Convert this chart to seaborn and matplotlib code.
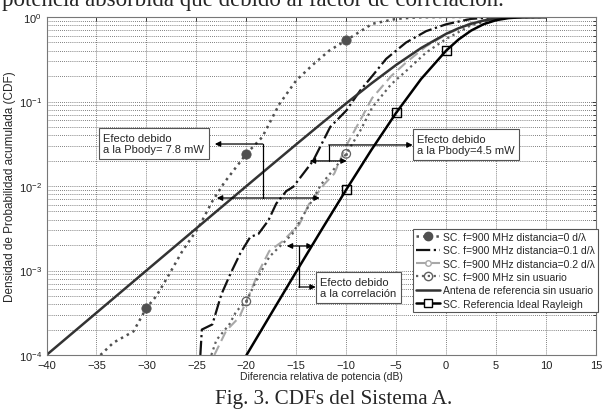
import numpy as np
import pandas as pd
import matplotlib
matplotlib.use("Agg")
import matplotlib.pyplot as plt
import seaborn as sns
from matplotlib.lines import Line2D
from matplotlib.ticker import LogLocator, NullFormatter

# ---------------- data ----------------
d0_x = [-34.6, -33.3, -31.3, -30.0, -29.0, -28.0, -26.4, -24.8, -23.4, -22.2, -20.0,
        -18.4, -16.7, -15.0, -13.3, -11.7, -10.0, -7.4, -5.0, -3.0, 0.0, 10.0]
d0_y = [1.0e-4, 1.4e-4, 1.9e-4, 3.6e-4, 5.0e-4, 7.9e-4, 1.7e-3, 3.2e-3, 6.6e-3, 0.011, 0.024,
        0.038, 0.093, 0.178, 0.275, 0.40, 0.53, 0.83, 0.95, 0.99, 1.0, 1.0]
d0_mk_x = [-30.0, -20.0, -10.0]
d0_mk_y = [3.6e-4, 0.024, 0.53]

d1_x = [-24.6, -24.45, -23.4, -22.5, -21.6, -20.6, -19.6, -18.8, -17.8, -17.0, -16.0, -15.3,
        -13.3, -11.6, -10.0, -8.6, -7.4, -6.0, -4.0, -2.0, 0.0, 2.5, 5.0, 7.0, 10.0]
d1_y = [1.0e-4, 2.0e-4, 2.3e-4, 5.2e-4, 9.1e-4, 1.6e-3, 2.5e-3, 2.7e-3, 3.9e-3, 6.2e-3, 8.7e-3, 0.0098,
        0.020, 0.050, 0.078, 0.135, 0.20, 0.32, 0.50, 0.68, 0.82, 0.95, 0.995, 1.0, 1.0]

d2_x = [-23.2, -22.0, -20.7, -19.7, -18.7, -17.7, -16.4, -14.7, -13.7, -12.7, -12.2, -11.2,
        -10.0, -8.6, -7.4, -5.5, -4.0, -2.0, 0.0, 2.5, 5.0, 7.0, 10.0]
d2_y = [1.0e-4, 1.95e-4, 2.8e-4, 5.2e-4, 1.0e-3, 1.7e-3, 2.2e-3, 3.5e-3, 6.2e-3, 8.7e-3, 0.0105, 0.014,
        0.030, 0.060, 0.11, 0.20, 0.29, 0.45, 0.62, 0.85, 0.97, 1.0, 1.0]

su_x = [-23.5, -23.0, -21.7, -21.0, -20.0, -19.0, -17.7, -16.7, -15.4, -14.4, -13.4, -12.5, -11.2,
        -10.0, -8.6, -7.4, -5.5, -4.0, -2.0, 0.0, 2.5, 5.0, 7.0, 10.0]
su_y = [1.0e-4, 1.5e-4, 2.3e-4, 3.3e-4, 4.3e-4, 7.6e-4, 1.45e-3, 1.9e-3, 2.7e-3, 4.3e-3, 6.8e-3, 0.0105, 0.016,
        0.024, 0.045, 0.085, 0.16, 0.23, 0.38, 0.55, 0.80, 0.95, 0.995, 1.0]
su_mk_x = [-20.0, -10.0]
su_mk_y = [4.3e-4, 0.024]

ref_x = [-40.0, -35.0, -30.0, -25.0, -20.0, -17.5, -15.0, -12.5, -10.0, -7.5, -5.0, -2.5, 0.0,
         1.25, 2.5, 3.75, 5.0, 6.25, 7.5, 10.0]
ref_y = [1.0e-4, 3.16e-4, 1.0e-3, 3.157e-3, 9.95e-3, 0.01762, 0.03113, 0.05468, 0.09516, 0.1629,
         0.2711, 0.4301, 0.6321, 0.7364, 0.8310, 0.9066, 0.9577, 0.9853, 0.99639, 0.99995]

ray_x = [-20.0, -17.5, -15.0, -12.5, -10.0, -7.5, -5.0, -2.5, 0.0, 1.25, 2.5, 3.75, 5.0, 6.25, 7.5, 10.0]
ray_y = [9.9e-5, 3.105e-4, 9.69e-4, 2.99e-3, 9.056e-3, 0.02654, 0.0735, 0.185, 0.3996, 0.5423,
         0.6906, 0.8219, 0.9172, 0.9708, 0.99279, 0.9999]
ray_mk_x = [-10.0, -5.0, 0.0]
ray_mk_y = [9.056e-3, 0.0735, 0.3996]

labels = ["SC. f=900 MHz distancia=0 d/λ",
          "SC. f=900 MHz distancia=0.1 d/λ",
          "SC. f=900 MHz distancia=0.2 d/λ",
          "SC. f=900 MHz sin usuario",
          "Antena de referencia sin usuario",
          "SC. Referencia Ideal Rayleigh"]
x_ticks = [-40, -35, -30, -25, -20, -15, -10, -5, 0, 5, 10, 15]

# ---------------- style ----------------
sns.set_style("white")
plt.rcParams['font.family'] = ['Liberation Sans', 'DejaVu Sans']
plt.rcParams['mathtext.default'] = 'regular'

fig = plt.figure(figsize=(6.06, 4.10), dpi=100)
ax = fig.add_axes([46.5 / 606, 1 - 356 / 410, (596 - 46.5) / 606, 338 / 410])

c_d0 = '#505050'
c_d1 = '#111111'
c_d2 = '#a8a8a8'
c_su = '#606060'
c_ref = '#333333'
c_ray = '#000000'

def line(x, y, **kw):
    sns.lineplot(x=x, y=y, ax=ax, sort=False, estimator=None, **kw)

line(d0_x, d0_y, color=c_d0, linestyle=':', linewidth=1.8)
line(d1_x, d1_y, color=c_d1, linestyle='-.', linewidth=1.6)
line(d2_x, d2_y, color=c_d2, linestyle=(0, (5, 2.5)), linewidth=1.5)
line(su_x, su_y, color=c_su, linestyle=':', linewidth=1.6)
line(ref_x, ref_y, color=c_ref, linestyle='-', linewidth=1.8)
line(ray_x, ray_y, color=c_ray, linestyle='-', linewidth=1.8)

# markers
sns.scatterplot(x=d0_mk_x, y=d0_mk_y, ax=ax, color=c_d0, s=45, marker='o', edgecolor=c_d0, zorder=5)
sns.scatterplot(x=su_mk_x, y=su_mk_y, ax=ax, facecolor='none', edgecolor=c_su, s=38, marker='o',
                linewidth=0.9, zorder=5)
sns.scatterplot(x=su_mk_x, y=su_mk_y, ax=ax, color=c_su, s=4, marker='o', edgecolor=c_su, zorder=5)
sns.scatterplot(x=ray_mk_x, y=ray_mk_y, ax=ax, facecolor='none', edgecolor=c_ray, s=40, marker='s',
                linewidth=1.0, zorder=5)

ax.set_yscale('log')
ax.set_xlim(-40, 15)
ax.set_ylim(1e-4, 1)
ax.set_xticks(x_ticks)
ax.yaxis.set_major_locator(LogLocator(base=10, numticks=10))
ax.yaxis.set_minor_locator(LogLocator(base=10, subs=np.arange(2, 10), numticks=20))
ax.yaxis.set_minor_formatter(NullFormatter())

ax.grid(True, which='major', axis='both', color='#555555', linestyle=(0, (1, 1.5)), linewidth=0.6)
ax.grid(True, which='minor', axis='y', color='#555555', linestyle=(0, (1, 1.5)), linewidth=0.6)
ax.tick_params(axis='both', which='both', direction='in', top=True, right=True,
               labelsize=8, colors='#222222', length=3, width=0.6)
ax.tick_params(axis='y', which='minor', length=2)
for sp in ax.spines.values():
    sp.set_color('#777777')
    sp.set_linewidth(0.8)

ax.set_xlabel("Diferencia relativa de potencia (dB)", fontsize=7.5, labelpad=1)
ax.set_ylabel("Densidad de Probabilidad acumulada (CDF)", fontsize=8.5, labelpad=2)

# ---------------- annotations ----------------
bbox_kw = dict(boxstyle='square,pad=0.4', facecolor='white', edgecolor='#555555', linewidth=0.8)
ax.text(-34.3, 0.0318, "Efecto debido\na la Pbody= 7.8 mW", fontsize=8, ha='left', va='center',
        bbox=bbox_kw, zorder=6)
ax.text(-2.9, 0.031, "Efecto debido\na la Pbody=4.5 mW", fontsize=8, ha='left', va='center',
        bbox=bbox_kw, zorder=6)
ax.text(-12.6, 6.3e-4, "Efecto debido\na la correlación", fontsize=8, ha='left', va='center',
        bbox=bbox_kw, zorder=6)

def arrow(p0, p1, style='-|>'):
    ax.annotate('', xy=p1, xytext=p0,
                arrowprops=dict(arrowstyle=style, color='black', lw=0.9, shrinkA=0, shrinkB=0,
                                mutation_scale=8), zorder=7)

def seg(p0, p1):
    ax.plot([p0[0], p1[0]], [p0[1], p1[1]], color='black', lw=0.9, zorder=7)

# Pbody 7.8 mW
arrow((-18.35, 0.0314), (-23.15, 0.0314))
seg((-18.35, 0.0314), (-18.35, 0.00721))
arrow((-22.95, 0.00721), (-12.65, 0.00721), '<|-|>')
# Pbody 4.5 mW
arrow((-11.75, 0.0306), (-3.35, 0.0306))
seg((-11.75, 0.0306), (-11.75, 0.0198))
arrow((-13.65, 0.0198), (-9.95, 0.0198), '<|-|>')
# correlación
seg((-14.75, 1.95e-3), (-14.75, 6.38e-4))
arrow((-14.75, 6.38e-4), (-13.05, 6.38e-4))
arrow((-15.95, 1.95e-3), (-13.35, 1.95e-3), '<|-|>')

# ---------------- legend ----------------
handles = [
    Line2D([], [], color=c_d0, linestyle=':', lw=1.8, marker='o', markersize=6, markerfacecolor=c_d0),
    Line2D([], [], color=c_d1, linestyle='-.', lw=1.6),
    Line2D([], [], color=c_d2, linestyle=(0, (5, 2.5)), lw=1.5, marker='o', markersize=4,
           markerfacecolor='none', markeredgecolor=c_d2),
    Line2D([], [], color=c_su, linestyle=':', lw=1.6, marker='o', markersize=6,
           markerfacecolor='none', markeredgecolor=c_su),
    Line2D([], [], color=c_ref, linestyle='-', lw=1.8),
    Line2D([], [], color=c_ray, linestyle='-', lw=1.8, marker='s', markersize=6,
           markerfacecolor='white', markeredgecolor=c_ray),
]
leg = ax.legend(handles, labels, loc='upper left', bbox_to_anchor=(0.667, 0.373), fontsize=7.5,
                frameon=True, fancybox=False, edgecolor='#555555', framealpha=1,
                handlelength=2.3, handletextpad=0.3, labelspacing=0.32, borderpad=0.3,
                borderaxespad=0)
leg.get_frame().set_linewidth(0.8)
leg.set_zorder(8)

# ---------------- surrounding paper text ----------------
fig.text(0.003, 1 - 6 / 410, "potencia absorbida que debido al factor de correlación.",
         fontsize=16.5, family='Liberation Serif', ha='left', va='baseline')
fig.text(0.551, 0.026, "Fig. 3. CDFs del Sistema A.", fontsize=15.2, family='Liberation Serif',
         ha='center', va='center')

fig.savefig("out.png", dpi=100)
